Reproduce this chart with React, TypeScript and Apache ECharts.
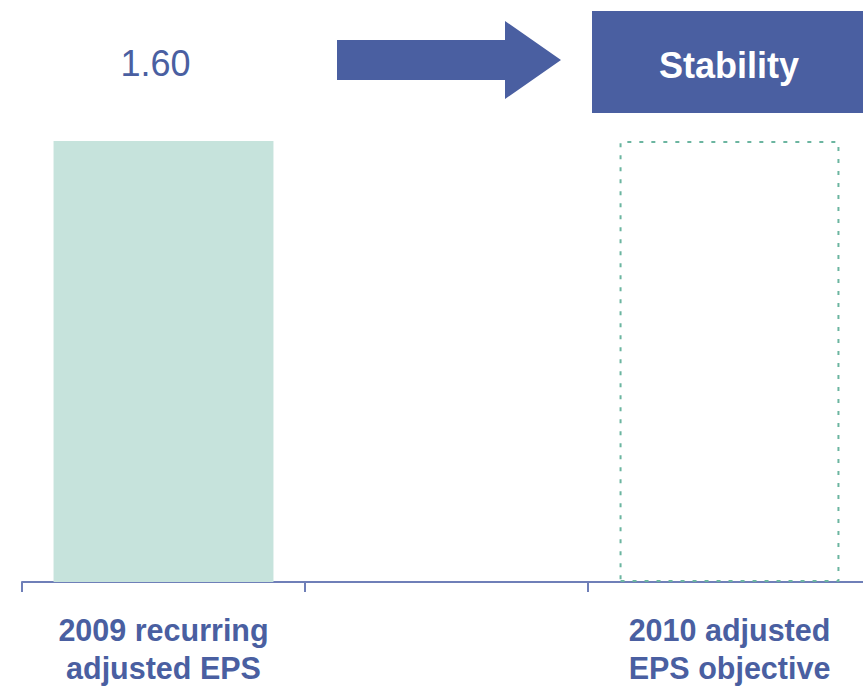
import React, { useEffect, useRef } from "react";
import * as echarts from "echarts";

const categories = ["2009 recurring\nadjusted EPS", "", "2010 adjusted\nEPS objective"];
const values: (number | null)[] = [1.6, null, 1.6];
const kinds = ["actual", "none", "objective"];
const headerText = "Stability";

const BLUE = "#4a5fa1";
const FONT = "'Liberation Sans', Arial, sans-serif";

export default function App() {
  const ref = useRef<HTMLDivElement>(null);
  useEffect(() => {
    const chart = echarts.init(ref.current!, null, { renderer: "svg" });
    const data = values.map((v, i) => {
      if (kinds[i] === "objective") {
        return {
          value: v,
          itemStyle: {
            color: "rgba(0,0,0,0)",
            borderColor: "#6bb5a0",
            borderWidth: 2,
            borderType: [4, 8],
          },
          label: { show: false },
        };
      }
      return {
        value: v,
        itemStyle: { color: "#c6e3dc" },
        label: {
          show: v != null,
          position: "top",
          distance: 60,
          offset: [-8, 0],
          fontSize: 36,
          fontFamily: FONT,
          color: BLUE,
          formatter: (p: any) => Number(p.value).toFixed(2),
        },
      };
    });
    chart.setOption({
      animation: false,
      backgroundColor: "#ffffff",
      grid: { left: 22, right: 0, top: 141, bottom: 106, outerBoundsMode: "none" },
      xAxis: {
        type: "category",
        data: categories,
        boundaryGap: true,
        axisLine: { show: true, lineStyle: { color: "#6f7fb8", width: 2 } },
        axisTick: { show: true, length: 10, lineStyle: { color: "#6f7fb8", width: 2 } },
        axisLabel: {
          interval: 0,
          margin: 29,
          fontSize: 30.5,
          lineHeight: 38,
          fontWeight: "bold",
          fontFamily: FONT,
          color: BLUE,
        },
      },
      yAxis: {
        type: "value",
        min: 0,
        max: 1.6,
        show: false,
        splitLine: { show: false },
      },
      series: [
        {
          type: "bar",
          data,
          barWidth: "77.7%",
        },
      ],
      graphic: [
        {
          type: "polygon",
          shape: {
            points: [
              [337, 40],
              [505, 40],
              [505, 21],
              [561, 60],
              [505, 99],
              [505, 80],
              [337, 80],
            ],
          },
          style: { fill: "#4a5fa1" },
        },
        {
          type: "rect",
          shape: { x: 592, y: 11, width: 290, height: 102 },
          style: { fill: "#4a5fa1" },
        },
        {
          type: "text",
          x: 729,
          y: 65,
          style: {
            text: headerText,
            fill: "#ffffff",
            fontSize: 36,
            fontWeight: "bold",
            fontFamily: FONT,
            textAlign: "center",
            textVerticalAlign: "middle",
          },
        },
      ],
    });
    return () => chart.dispose();
  }, []);
  return (
    <div
      style={{
        position: "absolute",
        left: 0,
        top: 0,
        width: 863,
        height: 688,
        overflow: "hidden",
      }}
    >
      <div ref={ref} style={{ width: 871, height: 688 }} />
    </div>
  );
}
